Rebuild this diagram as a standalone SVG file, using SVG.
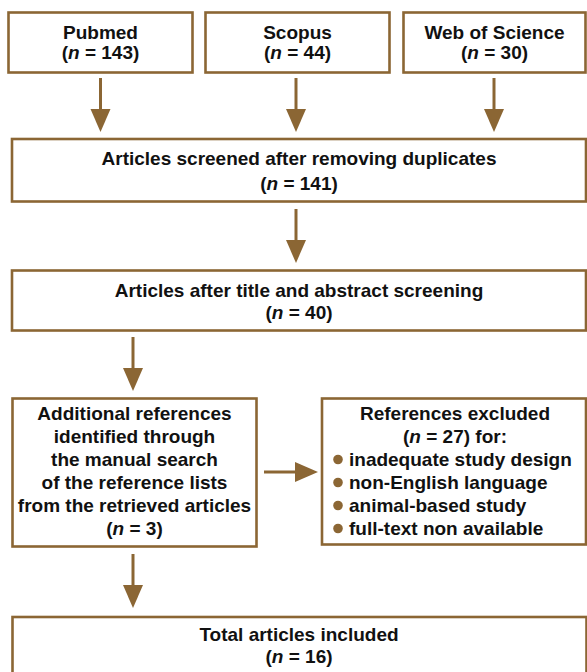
<svg xmlns="http://www.w3.org/2000/svg" width="587" height="672" viewBox="0 0 587 672">
  <defs>
    <style>
      .box { fill: #ffffff; stroke: #8b6634; stroke-width: 2.6; }
      .t { font-family: "Liberation Sans", Arial, sans-serif; font-weight: bold; font-size: 19px; fill: #111111; text-anchor: middle; }
      .tl { text-anchor: start; }
      .conn line { stroke: #8b6634; stroke-width: 3; }
      .conn polygon, .dot { fill: #8b6634; }
    </style>
  </defs>
  <rect width="587" height="672" fill="#ffffff"/>

  <g id="pubmed">
    <rect class="box" x="8.5" y="12.5" width="184" height="60"/>
    <text class="t" x="100.5" y="39">Pubmed</text>
    <text class="t" x="100.5" y="59">(<tspan font-style="italic">n</tspan> = 143)</text>
  </g>
  <g id="scopus">
    <rect class="box" x="205.5" y="12.5" width="184" height="60"/>
    <text class="t" x="297.5" y="39">Scopus</text>
    <text class="t" x="297.5" y="59">(<tspan font-style="italic">n</tspan> = 44)</text>
  </g>
  <g id="wos">
    <rect class="box" x="403.5" y="12.5" width="182" height="60"/>
    <text class="t" x="494.5" y="39">Web of Science</text>
    <text class="t" x="494.5" y="59">(<tspan font-style="italic">n</tspan> = 30)</text>
  </g>

  <g id="screened">
    <rect class="box" x="12" y="139" width="574" height="62.5"/>
    <text class="t" x="299" y="165">Articles screened after removing duplicates</text>
    <text class="t" x="299" y="190">(<tspan font-style="italic">n</tspan> = 141)</text>
  </g>

  <g id="abstract">
    <rect class="box" x="12" y="270.5" width="574" height="60"/>
    <text class="t" x="299" y="297">Articles after title and abstract screening</text>
    <text class="t" x="299" y="319">(<tspan font-style="italic">n</tspan> = 40)</text>
  </g>

  <g id="additional">
    <rect class="box" x="12.5" y="398.5" width="244" height="148"/>
    <text class="t" x="134.5" y="420">Additional references</text>
    <text class="t" x="134.5" y="443">identified through</text>
    <text class="t" x="134.5" y="466">the manual search</text>
    <text class="t" x="134.5" y="489">of the reference lists</text>
    <text class="t" x="134.5" y="512">from the retrieved articles</text>
    <text class="t" x="134.5" y="535">(<tspan font-style="italic">n</tspan> = 3)</text>
  </g>

  <g id="excluded">
    <rect class="box" x="322" y="398.5" width="264" height="146"/>
    <text class="t" x="455" y="420">References excluded</text>
    <text class="t" x="455" y="443">(<tspan font-style="italic">n</tspan> = 27) for:</text>
    <circle class="dot" cx="338" cy="459.5" r="4.8"/>
    <text class="t tl" x="349" y="466">inadequate study design</text>
    <circle class="dot" cx="338" cy="482.5" r="4.8"/>
    <text class="t tl" x="349" y="489">non-English language</text>
    <circle class="dot" cx="338" cy="505.5" r="4.8"/>
    <text class="t tl" x="349" y="512">animal-based study</text>
    <circle class="dot" cx="338" cy="528.5" r="4.8"/>
    <text class="t tl" x="349" y="535">full-text non available</text>
  </g>

  <g id="included">
    <rect class="box" x="12.5" y="617" width="574" height="70"/>
    <text class="t" x="299" y="641">Total articles included</text>
    <text class="t" x="299" y="663">(<tspan font-style="italic">n</tspan> = 16)</text>
  </g>

  <g id="connectors" class="conn">
    <line x1="100.5" y1="78" x2="100.5" y2="112"/>
    <polygon points="90.5,109 110.5,109 100.5,132"/>
    <line x1="296" y1="78" x2="296" y2="112"/>
    <polygon points="286,109 306,109 296,132"/>
    <line x1="494" y1="78" x2="494" y2="112"/>
    <polygon points="484,109 504,109 494,132"/>

    <line x1="296" y1="209" x2="296" y2="243"/>
    <polygon points="286,240 306,240 296,263"/>

    <line x1="133" y1="337" x2="133" y2="371"/>
    <polygon points="123,368 143,368 133,391"/>

    <line x1="264" y1="472" x2="298" y2="472"/>
    <polygon points="295,462 295,482 318,472"/>

    <line x1="133" y1="554" x2="133" y2="588"/>
    <polygon points="123,585 143,585 133,608"/>
  </g>
</svg>
